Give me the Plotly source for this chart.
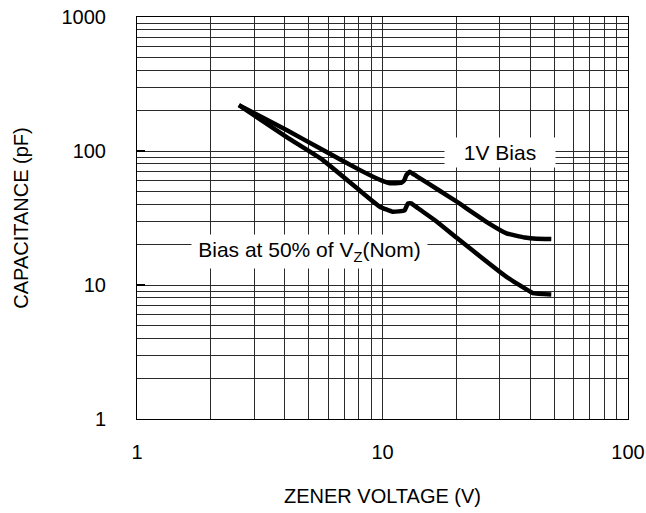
import plotly.graph_objects as go

# ---- data ----
x_1v = [2.6, 4.1, 5.6, 8.1, 9.75, 10.7, 11.95, 12.3, 12.5, 12.9, 13.75, 17.1, 20, 27, 32, 38, 42.4, 48.7]
y_1v = [220, 142, 104, 72, 61, 57.5, 58, 61, 66, 70, 65, 50.5, 42, 29, 24.3, 22.6, 22.1, 22]

x_50 = [2.6, 4.1, 5.6, 8.1, 9.75, 11.0, 12.3, 12.7, 13.1, 13.95, 16.6, 20, 32, 41, 48.7]
y_50 = [220, 126, 88, 50.5, 38.4, 35.2, 36.0, 40.7, 40.7, 37.4, 29.8, 22.6, 11.5, 8.7, 8.5]

x_major = [1, 10, 100]
x_major_text = ["1", "10", "100"]
x_minor = [2, 3, 4, 5, 6, 7, 8, 9, 20, 30, 40, 50, 60, 70, 80, 90]
y_major = [1, 10, 100, 1000]
y_major_text = ["1", "10", "100", "1000"]
y_minor = [2, 3, 4, 5, 6, 7, 8, 9, 20, 30, 40, 50, 60, 70, 80, 90,
           200, 300, 400, 500, 600, 700, 800, 900]

label_1v = "1V Bias"
label_50 = "Bias at 50% of V<sub>Z</sub>(Nom)"
x_title = "ZENER VOLTAGE (V)"
y_title = "CAPACITANCE (pF)"

FONT = "Arial, 'Liberation Sans', sans-serif"
GRID = "#2a2a2a"

fig = go.Figure()
fig.add_trace(go.Scatter(x=x_1v, y=y_1v, mode="lines", name=label_1v,
                         line=dict(color="black", width=4.5, shape="spline", smoothing=0.3),
                         hoverinfo="skip"))
fig.add_trace(go.Scatter(x=x_50, y=y_50, mode="lines", name="Bias at 50% of VZ(Nom)",
                         line=dict(color="black", width=4.5, shape="spline", smoothing=0.3),
                         hoverinfo="skip"))

fig.update_layout(
    width=646, height=513,
    margin=dict(l=137, r=18, t=17, b=94, autoexpand=False),
    paper_bgcolor="white", plot_bgcolor="white",
    showlegend=False,
    font=dict(family=FONT, size=20, color="black"),
)

fig.update_xaxes(
    type="log", range=[0, 2],
    tickmode="array", tickvals=x_major, ticktext=x_major_text,
    showgrid=True, gridcolor=GRID, gridwidth=1,
    minor=dict(tickmode="array", tickvals=x_minor, showgrid=True, gridcolor=GRID, gridwidth=1),
    showline=True, linecolor="black", linewidth=1, mirror=True,
    ticks="", ticklabelstandoff=15, ticklabeloverflow="allow",
    zeroline=False,
    title=dict(text=x_title, font=dict(size=20), standoff=26),
    automargin=False,
)
fig.update_yaxes(
    type="log", range=[0, 3],
    tickmode="array", tickvals=y_major, ticktext=y_major_text,
    showgrid=True, gridcolor=GRID, gridwidth=1,
    minor=dict(tickmode="array", tickvals=y_minor, showgrid=True, gridcolor=GRID, gridwidth=1),
    showline=True, linecolor="black", linewidth=1, mirror=True,
    ticks="inside", ticklen=8, tickwidth=2, tickcolor="black", ticklabelstandoff=26,
    ticklabeloverflow="allow",
    zeroline=False,
    title=dict(text=y_title, font=dict(size=20), standoff=27),
    automargin=False,
)

fig.add_annotation(xref="paper", yref="paper", x=0.7393, y=0.663,
                   xanchor="center", yanchor="middle",
                   text=label_1v, showarrow=False, bgcolor="white",
                   width=110, height=29, borderpad=0,
                   font=dict(family=FONT, size=21, color="black"))
fig.add_annotation(xref="paper", yref="paper", x=0.3513, y=0.4167,
                   xanchor="center", yanchor="middle",
                   text=label_50, showarrow=False, bgcolor="white",
                   width=235, height=33, borderpad=0,
                   font=dict(family=FONT, size=21, color="black"))

# remove the browser's default 8px page margin so the figure fills the window exactly
fig.write_html("out.html",
               config={"displayModeBar": False},
               post_script="document.body.style.margin='0';document.body.style.overflow='hidden';")
